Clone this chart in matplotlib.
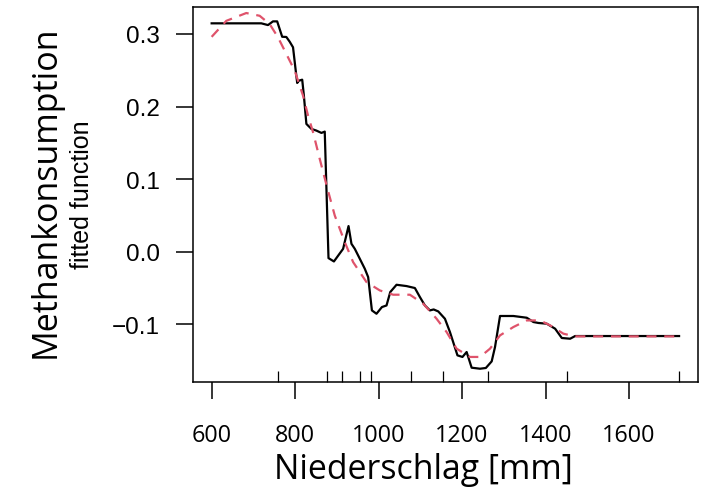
import numpy as np
import matplotlib
matplotlib.use("Agg")
import matplotlib.pyplot as plt

# Partial effect of precipitation on methane consumption
niederschlag = [600, 719, 735, 747, 757, 769, 779, 787, 795, 801, 805, 809, 817,
                821, 827, 839, 851, 863, 871, 880, 893, 915, 928, 935, 943, 955,
                967, 975, 984, 995, 1008, 1019, 1028, 1043, 1067, 1087, 1099,
                1111, 1123, 1132, 1143, 1159, 1171, 1189, 1201, 1211, 1223,
                1243, 1257, 1271, 1279, 1291, 1323, 1355, 1371, 1383, 1403,
                1423, 1439, 1459, 1471, 1720]
effekt = [0.3146, 0.3146, 0.3122, 0.3173, 0.3173, 0.2961, 0.2958, 0.2893,
          0.2816, 0.2517, 0.2325, 0.2356, 0.2370, 0.2150, 0.1761, 0.1692,
          0.1669, 0.1637, 0.1655, -0.0087, -0.0133, 0.0041, 0.0354, 0.0110,
          0.0041, -0.0096, -0.0234, -0.0348, -0.0807, -0.0853, -0.0761,
          -0.0739, -0.0554, -0.0454, -0.0472, -0.0499, -0.0623, -0.0739,
          -0.0807, -0.0794, -0.0821, -0.0922, -0.1105, -0.1426, -0.1448,
          -0.1380, -0.1596, -0.1610, -0.1600, -0.1509, -0.1311, -0.0884,
          -0.0884, -0.0908, -0.0967, -0.0980, -0.0990, -0.1059, -0.1187,
          -0.1197, -0.1160, -0.1160]

# smoothed fit (red dashed)
glatt_x = [600, 635, 683, 715, 739, 759, 779, 799, 819, 831, 843, 859, 877,
           895, 919, 939, 971, 1003, 1035, 1075, 1107, 1139, 1163, 1187,
           1219, 1243, 1267, 1291, 1323, 1355, 1387, 1411, 1443, 1471, 1720]
glatt_y = [0.2960, 0.3180, 0.3288, 0.3250, 0.3136, 0.2953, 0.2724, 0.2494,
           0.2150, 0.1875, 0.1646, 0.1279, 0.0880, 0.0500, 0.0133, -0.0142,
           -0.0417, -0.0532, -0.0591, -0.0591, -0.0715, -0.0922, -0.1105,
           -0.1334, -0.1448, -0.1448, -0.1334, -0.1151, -0.1036, -0.0945,
           -0.0945, -0.1013, -0.1128, -0.1165, -0.1165]

# rug (deciles of precipitation)
rug = [600, 760, 876, 912, 956, 983, 1077, 1154, 1261, 1451, 1720]

xticks = [600, 800, 1000, 1200, 1400, 1600]
yticks = [-0.1, 0.0, 0.1, 0.2, 0.3]
ytick_labels = ["\u22120.1", "0.0", "0.1", "0.2", "0.3"]

fig = plt.figure(figsize=(7.12, 4.89), dpi=100)
ax = fig.add_axes([0.271, 0.2175, 0.709, 0.766])

ax.plot(niederschlag, effekt, color="black", lw=1.6, zorder=3)
ax.plot(glatt_x, glatt_y, color="#DF536B", lw=1.6, dashes=(4.5, 3.5), zorder=4)

ax.set_xlim(555.2, 1764.8)
ax.set_ylim(-0.1788, 0.337)

ax.set_xticks(xticks)
ax.set_xticklabels([str(v) for v in xticks], family="Open Sans", fontsize=16.8)
ax.set_xticks(rug, minor=True)
ax.set_yticks(yticks)
ax.set_yticklabels(ytick_labels, family="Liberation Sans", fontsize=17.5)

ax.tick_params(which="major", direction="out", length=12.5, width=1.1, color="black")
ax.tick_params(axis="x", which="major", pad=17)
ax.tick_params(axis="y", which="major", pad=11.3)
ax.tick_params(axis="x", which="minor", direction="in", length=8.1, width=0.9)
for sp in ax.spines.values():
    sp.set_linewidth(1.1)

fig.text(0.5948, 0.0204, "Niederschlag [mm]", family="Open Sans", fontsize=24.4,
         ha="center", va="baseline")
fig.text(0.0772, 0.6084, "Methankonsumption", rotation=90, rotation_mode="anchor",
         family="Open Sans", fontsize=24.5, ha="center", va="baseline")
fig.text(0.1254, 0.6016, "fitted function", rotation=90, rotation_mode="anchor",
         family="Liberation Sans", fontsize=18, ha="center", va="baseline")

fig.savefig("out.png", dpi=100)
